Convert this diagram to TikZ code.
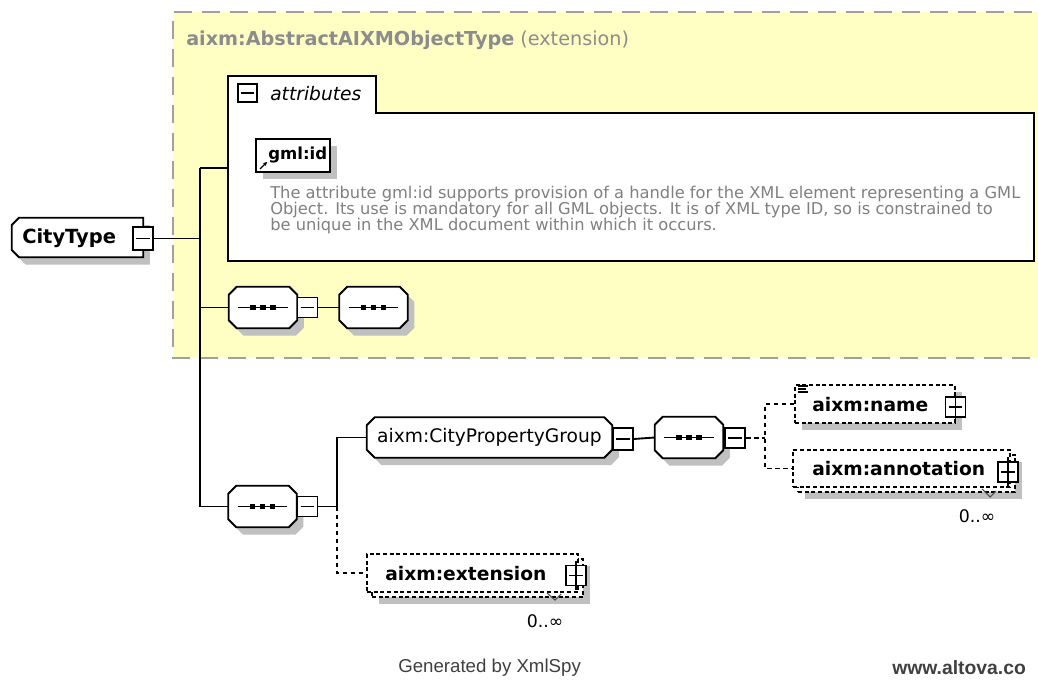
\documentclass[tikz,border=0pt]{standalone}
\usepackage{fontspec}
\setmainfont{DejaVu Sans}
\newfontfamily\footfont{Liberation Sans}
\usetikzlibrary{shadows,arrows.meta}
\definecolor{ylw}{HTML}{FFFFC4}
\definecolor{ygray}{HTML}{A0A0A0}
\definecolor{shd}{HTML}{C0C0C0}
\definecolor{desccol}{HTML}{808080}
\definecolor{footcol}{HTML}{404040}
\definecolor{titlecol}{HTML}{8C8C8C}
\newcommand\minusin[1]{\draw[line width=1.2pt] ([xshift=3pt]#1.west) -- ([xshift=-3pt]#1.east);}
\newcommand\plusin[1]{\draw[line width=1.2pt] ([xshift=3pt]#1.west) -- ([xshift=-3pt]#1.east);\draw[line width=1.2pt] ([yshift=3pt]#1.north) -- ([yshift=-3pt]#1.south);}
\newcommand\seqdots[1]{%
  \draw[line width=1.1pt] ([xshift=7pt]#1.west) -- ([xshift=-7pt]#1.east);
  \foreach \dx in {-7.5pt,0pt,7.5pt}{\fill ([xshift=\dx]#1.center) +(-2pt,-2pt) rectangle +(2pt,2pt);}}
\newcommand\octall[1]{\path[octline] ([xshift=6pt]#1.north west) -- ([xshift=-6pt]#1.north east) -- ([yshift=-6pt]#1.north east) -- ([yshift=6pt]#1.south east) -- ([xshift=-6pt]#1.south east) -- ([xshift=6pt]#1.south west) -- ([yshift=6pt]#1.south west) -- ([yshift=-6pt]#1.north west) -- cycle;}
\newcommand\octleft[1]{\path[octline] ([xshift=5.5pt]#1.north west) -- (#1.north east) -- (#1.south east) -- ([xshift=5.5pt]#1.south west) -- ([yshift=5.5pt]#1.south west) -- ([yshift=-5.5pt]#1.north west) -- cycle;}
\tikzset{
  conn/.style={line width=1.4pt},
  dconn/.style={line width=1.1pt, dash pattern=on 3.5pt off 2.5pt},
  shad/.style={general shadow={fill=shd, draw=none, shadow xshift=5pt, shadow yshift=-5.5pt}},
  octline/.style={draw, line width=1.4pt, fill=white, preaction={fill=shd, draw=none, transform canvas={shift={(5pt,-5.5pt)}}}},
  area/.style={rectangle, inner sep=0pt},
  seqnode/.style={area, minimum width=51pt, minimum height=30.75pt},
  pmbox/.style={rectangle, draw, line width=1.3pt, fill=white, minimum size=15pt, inner sep=0pt},
  elbox/.style={rectangle, draw, fill=white, inner sep=0pt, line width=1.1pt, dash pattern=on 3pt off 2pt},
  lbl/.style={font=\bfseries\fontsize{14}{16}\selectfont, inner sep=0pt, anchor=west},
  desc/.style={font=\fontsize{12.2}{12}\selectfont, text=desccol, inner sep=0pt, anchor=base west},
  occ/.style={font=\fontsize{13}{15}\selectfont, inner sep=0pt},
  foot/.style={font=\footfont\fontsize{14}{16}\selectfont, text=footcol, anchor=west, inner sep=0pt},
}
\begin{document}
\begin{tikzpicture}[x=0.75pt,y=-0.75pt]
\useasboundingbox (0,0) rectangle (1038,691);
\clip (0,0) rectangle (1038,691);
\fill[white] (0,0) rectangle (1038,691);
% extension region
\draw[ygray, line width=1.5pt, dash pattern=on 13.5pt off 7.5pt, fill=ylw] (1060,12) -- (173,12) -- (173,358) -- (1060,358);
\node[font=\fontsize{14.4}{16}\selectfont, text=titlecol, anchor=west, inner sep=0pt] (title) at (186,40) {\textbf{aixm:AbstractAIXMObjectType} (extension)};
% attributes
\draw[line width=1.4pt, fill=white] (228,261) -- (228,76) -- (376,76) -- (376,113) -- (1034,113) -- (1034,261) -- cycle;
\coordinate (attrL) at (228,168);
\node[pmbox, minimum size=14pt] (attrm) at (247.5,93) {}; \minusin{attrm}
\node[font=\itshape\fontsize{14}{16}\selectfont, anchor=west, inner sep=0pt] (attrt) at (270,94) {attributes};
\node[rectangle, draw, line width=1.4pt, fill=white, minimum width=55.5pt, minimum height=24.75pt, inner sep=0pt, shad] (gmlid) at (293,155.5) {};
\node[font=\bfseries\fontsize{12.4}{14}\selectfont, anchor=west, inner sep=0pt] (gmlidt) at (268,155) {gml:id};
\coordinate (arA) at (260,169); \coordinate (arB) at (267,162);
\draw[line width=0.9pt, -{Stealth[length=3pt,width=3pt]}] (arA) -- (arB);
\node[desc] (d1) at (270,199) {The attribute gml:id supports provision of a handle for the XML element representing a GML};
\node[desc] (d2) at (270,215) {Object. Its use is mandatory for all GML objects. It is of XML type ID, so is constrained to};
\node[desc] (d3) at (270,231) {be unique in the XML document within which it occurs.};
% CityType
\node[area, minimum width=98.25pt, minimum height=29.25pt] (city) at (77.5,237.5) {};
\octleft{city}
\node[lbl, font=\bfseries\fontsize{14.6}{16}\selectfont] (cityt) at (22,238) {CityType};
\node[pmbox, minimum height=17pt] (cm) at (143,238.5) {}; \minusin{cm}
% trunk
\coordinate (trTop) at (200,168);
\coordinate (trBot) at (200,506.5);
\draw[conn] (trTop) -- (trBot);
\draw[conn] (trTop) -- (attrL);
\draw[conn] (cm.east) -- (cm.east -| trTop);
% sequences in extension
\node[seqnode] (s1) at (263,307.5) {}; \octall{s1} \seqdots{s1}
\node[pmbox] (m1) at (307.5,307.5) {}; \minusin{m1}
\node[seqnode] (s2) at (373.5,307.5) {}; \octall{s2} \seqdots{s2}
\draw[conn] (m1.east) -- (s2.west);
\draw[conn] (s1.west -| trTop) -- (s1.west);
% lower sequence
\node[seqnode] (s3) at (262.5,506.5) {}; \octall{s3} \seqdots{s3}
\node[pmbox] (m3) at (307.5,506.5) {}; \minusin{m3}
\draw[conn] (trBot) -- (s3.west);
\coordinate (br) at (337,506.5);
\draw[conn] (m3.east) -- (br);
% CityPropertyGroup
\node[area, minimum width=183.75pt, minimum height=30pt] (cpg) at (489.5,437.5) {};
\octall{cpg}
\node[font=\fontsize{14}{16}\selectfont, inner sep=0pt] (cpgt) at (cpg.center) {aixm:CityPropertyGroup};
\draw[conn] (br) -- (br |- cpg.west) -- (cpg.west);
\node[pmbox, minimum height=16.5pt] (mc) at (623,439) {}; \minusin{mc}
\node[seqnode] (s4) at (689,437.5) {}; \octall{s4} \seqdots{s4}
\draw[conn] (mc.east) -- (s4.west);
\node[pmbox] (m4) at (735,438) {}; \minusin{m4}
\coordinate (cj) at (765,438);
\draw[dconn] (m4.east) -- (cj);
% aixm:name
\node[elbox, minimum width=120pt, minimum height=28.5pt, shad] (nm) at (875,404) {};
\draw[line width=0.8pt] (798,386) -- (808,386) (798,389) -- (806,389) (798,392) -- (808,392);
\node[lbl] (nmt) at (812,405) {aixm:name};
\node[pmbox] (np) at (955.5,407) {}; \plusin{np}
% aixm:annotation
\node[elbox, minimum width=162.75pt, minimum height=27.75pt, shad] (annB) at (906.5,473.5) {};
\node[elbox, minimum width=162.75pt, minimum height=27.75pt] (annF) at (901.5,468.5) {};
\node[lbl] (annt) at (812,469) {aixm:annotation};
\node[pmbox] (ap) at (1008,472) {}; \plusin{ap}
\draw[line width=0.8pt, black!70] (982,489) -- (990,497) -- (996,491);
\node[occ] (anno) at (977,516) {0..∞};
\draw[dconn] (nm.west) -| (cj) |- (annF.west);
% aixm:extension
\node[elbox, minimum width=158.25pt, minimum height=28.5pt, shad] (extB) at (477.5,578) {};
\node[elbox, minimum width=158.25pt, minimum height=28.5pt] (extF) at (472.5,573) {};
\node[lbl] (extt) at (385,574) {aixm:extension};
\node[pmbox] (ep) at (576,575.5) {}; \plusin{ep}
\draw[line width=0.8pt, black!70] (547,593) -- (555,600) -- (561,594);
\node[occ] (exto) at (545,621) {0..∞};
\draw[dconn] (br) -- (br |- extF.west) -- (extF.west);
% footer
\node[foot] (gen) at (398,668) {Generated by XmlSpy};
\node[foot, font=\footfont\bfseries\fontsize{14.5}{16}\selectfont] (alt) at (892,668) {www.altova.co};
\end{tikzpicture}
\end{document}
